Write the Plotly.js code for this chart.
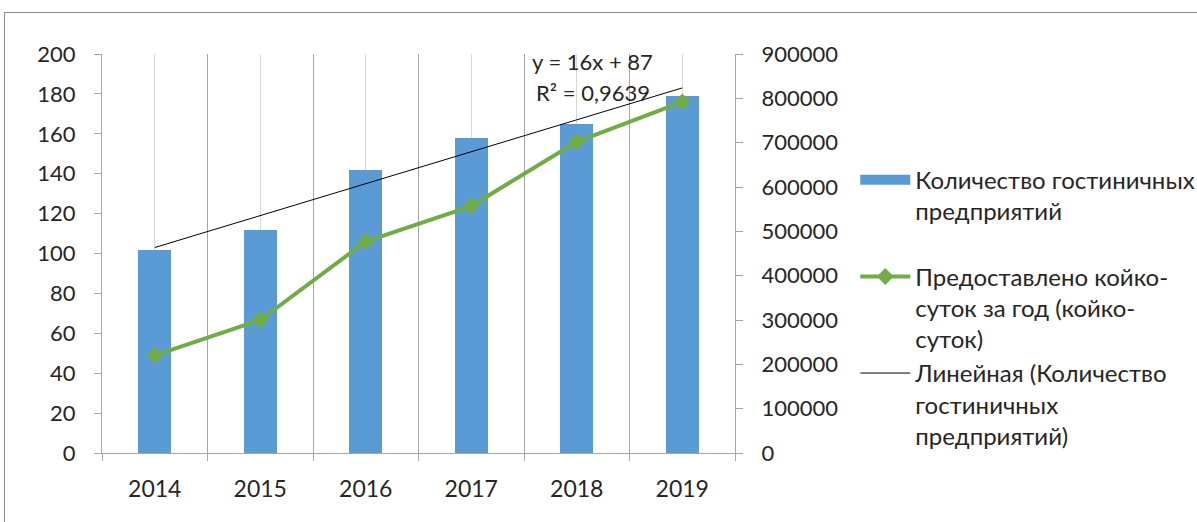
<!DOCTYPE html>
<html>
<head>
<meta charset="utf-8">
<script src="https://cdn.plot.ly/plotly-3.0.1.min.js"></script>
<style>
  html, body { margin: 0; padding: 0; background: #fff; }
  #wrap { position: relative; width: 1197px; height: 522px; overflow: hidden; }
  #chart { position: absolute; left: 0; top: 0; width: 1197px; height: 522px; }
  #frame { position: absolute; left: 4px; top: 12px; width: 1300px; height: 600px;
           border: 1px solid #8c8c8c; pointer-events: none; }
</style>
</head>
<body>
<div id="wrap">
  <div id="chart"></div>
  <div id="frame"></div>
</div>
<script>
// ---- data ----
const years = ['2014', '2015', '2016', '2017', '2018', '2019'];
const hotels = [102, 112, 142, 158, 165, 179];
const bedDays = [220000, 300000, 477000, 557000, 702000, 792000];
const trendSlope = 16;
const trendIntercept = 87;
const trendEquation = 'y = 16x + 87';
const trendR2 = 'R² = 0,9639';
const nameHotels = 'Количество гостиничных<br>предприятий<br> ';
const nameBedDays = 'Предоставлено койко-<br>суток за год (койко-<br>суток)';
const nameTrend = 'Линейная (Количество<br>гостиничных<br>предприятий)';

const trendY = years.map((_, i) => trendSlope * (i + 1) + trendIntercept);

const FONT = 'Lato, "Open Sans", "Noto Sans", sans-serif';
const TXT = '#262626';
const BLUE = '#5B9BD5';

const traces = [
  {
    type: 'bar', x: years, y: hotels, name: nameHotels, showlegend: false,
    marker: { color: BLUE }, width: 0.31,
    xaxis: 'x', yaxis: 'y'
  },
  // legend entry for the bars (wide rectangle swatch, as in the original)
  {
    type: 'scatter', mode: 'lines', x: [years[0]], y: [null], name: nameHotels,
    line: { color: BLUE, width: 15 }, hoverinfo: 'skip',
    xaxis: 'x', yaxis: 'y'
  },
  {
    type: 'scatter', mode: 'lines+markers', x: years, y: bedDays, name: nameBedDays,
    line: { color: '#70AD47', width: 4 },
    marker: { symbol: 'diamond', size: 13, color: '#70AD47' },
    xaxis: 'x', yaxis: 'y2'
  },
  {
    type: 'scatter', mode: 'lines', x: years, y: trendY, name: nameTrend,
    line: { color: '#000000', width: 1 },
    xaxis: 'x2', yaxis: 'y'
  }
];

const layout = {
  width: 1197, height: 522,
  margin: { l: 102, r: 462, t: 54, b: 69, autoexpand: false },
  paper_bgcolor: 'rgba(0,0,0,0)', plot_bgcolor: 'rgba(0,0,0,0)',
  font: { family: FONT, size: 22, color: TXT },
  showlegend: true,
  bargap: 0,
  xaxis: {
    type: 'category', categoryorder: 'array', categoryarray: years,
    range: [-0.5, 5.5],
    showgrid: true, gridcolor: '#d9d9d9', gridwidth: 1,
    ticks: '', showline: false, zeroline: false,
    tickfont: { family: FONT, size: 23, color: TXT },
    ticklabelstandoff: 20
  },
  xaxis2: {
    type: 'category', categoryorder: 'array', categoryarray: years,
    range: [-0.5, 5.5], overlaying: 'x', side: 'bottom',
    tickson: 'boundaries', showgrid: true, gridcolor: '#a6a6a6', gridwidth: 1,
    ticks: 'outside', ticklen: 7, tickcolor: '#a6a6a6',
    showticklabels: false, showline: true, linecolor: '#a6a6a6', zeroline: false
  },
  yaxis: {
    range: [0, 200], dtick: 20, tick0: 0,
    showgrid: false, zeroline: false,
    showline: true, linecolor: '#a6a6a6', ticks: 'outside', ticklen: 7, tickcolor: '#a6a6a6',
    tickfont: { family: FONT, size: 22, color: TXT },
    ticklabelstandoff: 14
  },
  yaxis2: {
    range: [0, 900000], dtick: 100000, tick0: 0, overlaying: 'y', side: 'right',
    tickformat: 'd',
    showgrid: false, zeroline: false,
    showline: true, linecolor: '#a6a6a6', ticks: 'outside', ticklen: 7, tickcolor: '#a6a6a6',
    tickfont: { family: FONT, size: 22, color: TXT },
    ticklabelstandoff: 14
  },
  legend: {
    x: 1.19, xanchor: 'left', y: 0.74, yanchor: 'top',
    font: { family: FONT, size: 24, color: TXT },
    bgcolor: 'rgba(0,0,0,0)', itemwidth: 50, tracegroupgap: 0,
    traceorder: 'normal', valign: 'top'
  },
  annotations: [
    { xref: 'x', yref: 'y', x: 4.15, y: 196, text: trendEquation, showarrow: false,
      font: { family: FONT, size: 22, color: TXT } },
    { xref: 'x', yref: 'y', x: 4.15, y: 180.5, text: trendR2, showarrow: false,
      font: { family: FONT, size: 22, color: TXT } }
  ]
};

Plotly.newPlot('chart', traces, layout, { staticPlot: true, displayModeBar: false });
</script>
</body>
</html>
